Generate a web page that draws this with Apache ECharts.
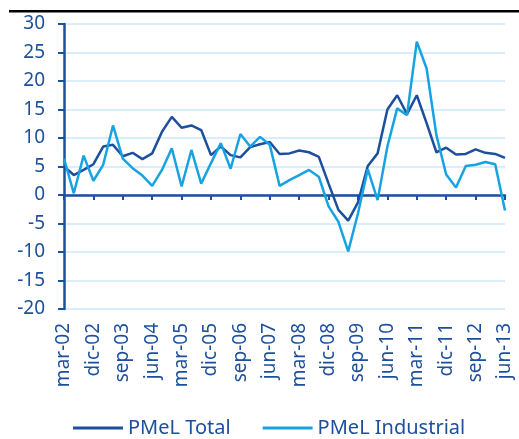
<!DOCTYPE html>
<html>
<head>
<meta charset="utf-8">
<script src="https://cdn.jsdelivr.net/npm/echarts@6/dist/echarts.min.js"></script>
<style>
  html, body { margin: 0; padding: 0; background: #fff; }
  #chart { width: 519px; height: 439px; }
</style>
</head>
<body>
<div id="chart"></div>
<script>
// quarterly categories, mar-02 .. jun-13
const categories = [
  'mar-02', 'jun-02', 'sep-02', 'dic-02',
  'mar-03', 'jun-03', 'sep-03', 'dic-03',
  'mar-04', 'jun-04', 'sep-04', 'dic-04',
  'mar-05', 'jun-05', 'sep-05', 'dic-05',
  'mar-06', 'jun-06', 'sep-06', 'dic-06',
  'mar-07', 'jun-07', 'sep-07', 'dic-07',
  'mar-08', 'jun-08', 'sep-08', 'dic-08',
  'mar-09', 'jun-09', 'sep-09', 'dic-09',
  'mar-10', 'jun-10', 'sep-10', 'dic-10',
  'mar-11', 'jun-11', 'sep-11', 'dic-11',
  'mar-12', 'jun-12', 'sep-12', 'dic-12',
  'mar-13', 'jun-13'
];

const pmelTotal = [
  5.0, 3.5, 4.4, 5.4, 8.5, 8.8, 6.8, 7.4, 6.3, 7.3,
  11.1, 13.7, 11.8, 12.2, 11.4, 7.0, 8.5, 7.0, 6.6, 8.4,
  8.9, 9.3, 7.2, 7.3, 7.8, 7.5, 6.7, 2.0, -2.6, -4.5,
  -1.3, 5.1, 7.3, 15.0, 17.5, 14.2, 17.5, 12.6, 7.5, 8.3,
  7.1, 7.2, 8.0, 7.4, 7.2, 6.5
];

const pmelIndustrial = [
  6.4, 0.3, 6.9, 2.5, 5.3, 12.2, 6.4, 4.7, 3.4, 1.6,
  4.4, 8.2, 1.5, 7.9, 2.0, 5.6, 9.1, 4.6, 10.7, 8.5,
  10.2, 8.8, 1.6, 2.6, 3.5, 4.4, 3.2, -2.0, -4.7, -9.9,
  -3.2, 4.5, -0.9, 8.5, 15.2, 14.0, 26.9, 22.2, 10.5, 3.6,
  1.3, 5.1, 5.3, 5.8, 5.4, -2.7
];

const seriesNames = ['PMeL Total', 'PMeL Industrial'];

const navy = '#1c4f9c';
const cyan = '#17a3e2';
const gridBlue = '#cde9f7';
const font = '"Noto Sans", sans-serif';

const chart = echarts.init(document.getElementById('chart'));

const option = {
  backgroundColor: '#fff',
  animation: false,
  textStyle: { fontFamily: font },
  graphic: [
    {
      // black rule across the top of the picture
      type: 'rect',
      shape: { x: 9, y: 10, width: 510, height: 2.5 },
      style: { fill: '#000' },
      z: 100
    }
  ],
  grid: {
    left: 64,
    right: 14,
    top: 24,
    bottom: 130,
    containLabel: false,
    outerBoundsMode: 'none'
  },
  legend: {
    data: seriesNames,
    left: 73,
    top: 418,
    padding: 0,
    icon: 'rect',
    itemWidth: 50,
    itemHeight: 3,
    itemGap: 32,
    textStyle: { color: navy, fontSize: 20, fontFamily: font }
  },
  xAxis: [
    {
      // labels along the bottom
      type: 'category',
      data: categories,
      boundaryGap: false,
      position: 'bottom',
      axisLine: { show: false, onZero: false },
      axisTick: { show: false },
      axisLabel: {
        interval: 2,
        rotate: 90,
        margin: 14,
        color: navy,
        fontSize: 19,
        fontFamily: font
      },
      splitLine: { show: false }
    },
    {
      // axis line through zero
      type: 'category',
      data: categories,
      boundaryGap: false,
      position: 'bottom',
      axisLine: { show: true, onZero: true, lineStyle: { color: navy, width: 2.5 } },
      axisTick: { show: true, interval: 2, length: 5, lineStyle: { color: navy, width: 2 } },
      axisLabel: { show: false },
      splitLine: { show: false }
    }
  ],
  yAxis: {
    type: 'value',
    min: -20,
    max: 30,
    interval: 5,
    axisLine: { show: true, lineStyle: { color: navy, width: 2.5 } },
    axisTick: { show: true, length: 6, lineStyle: { color: navy, width: 2 } },
    axisLabel: { color: navy, fontSize: 19, margin: 19, fontFamily: font },
    splitLine: { show: true, lineStyle: { color: gridBlue, width: 1.5 } }
  },
  series: [
    {
      name: seriesNames[0],
      type: 'line',
      data: pmelTotal,
      symbol: 'none',
      lineStyle: { color: navy, width: 2.5 },
      itemStyle: { color: navy }
    },
    {
      name: seriesNames[1],
      type: 'line',
      data: pmelIndustrial,
      symbol: 'none',
      lineStyle: { color: cyan, width: 2.5 },
      itemStyle: { color: cyan }
    }
  ]
};

chart.setOption(option);
</script>
</body>
</html>
